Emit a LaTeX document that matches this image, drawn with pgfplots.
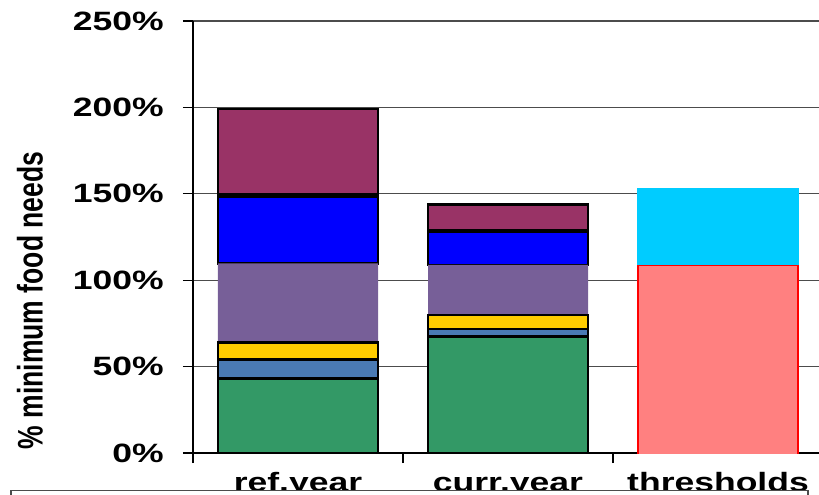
\documentclass[border=0pt]{standalone}
\usepackage{pgfplots}
\pgfplotsset{compat=1.18}
\usepackage{fontspec}
\setmainfont{Liberation Sans}

\definecolor{cgreen}{HTML}{339966}
\definecolor{csteel}{HTML}{4A7AB4}
\definecolor{cyellow}{HTML}{FFCC00}
\definecolor{cpurple}{HTML}{775F98}
\definecolor{cblue}{HTML}{0000FF}
\definecolor{cmaroon}{HTML}{993366}
\definecolor{csalmon}{HTML}{FF8080}
\definecolor{cred}{HTML}{FF0000}
\definecolor{ccyan}{HTML}{00CCFF}

% labels are set wide, as in the original sheet
\newcommand{\wide}[1]{\scalebox{1.34}[1]{#1}}
\newcommand{\labfont}{\fontsize{26.5pt}{30pt}\selectfont\bfseries}

\pgfplotsset{
  base/.style={
    at={(193pt,-453pt)}, anchor=south west,
    width=630pt, height=432pt, scale only axis,
    xmin=-0.5, xmax=2.5, ymin=0, ymax=250,
  },
  seg/.style={fill=#1, draw=black, line width=2.6pt},
}

\begin{document}
\begin{tikzpicture}
\useasboundingbox (0pt,0pt) rectangle (819pt,-495pt);
\clip (0pt,0pt) rectangle (819pt,-495pt);

\begin{axis}[
  base, ybar stacked, bar width=160pt,
  axis x line*=bottom, axis y line*=left,
  axis line style={-, black, line width=1.2pt},
  tick align=outside,
  major tick length=10pt,
  tick style={black, line width=1.2pt},
  ytick={0,50,100,150,200,250},
  yticklabels={\wide{0\%},\wide{50\%},\wide{100\%},\wide{150\%},\wide{200\%},\wide{250\%}},
  yticklabel style={font=\labfont, anchor=east, inner sep=0pt, xshift=-19pt},
  /pgf/number format/assume math mode=true,
  ymajorgrids,
  grid style={black!70, line width=1.2pt},
  xtick={-0.5,0.5,1.5,2.5},
  xticklabels={},
  extra x ticks={0,1,2},
  extra x tick labels={\wide{ref.year},\wide{curr.year},\wide{thresholds}},
  extra x tick style={major tick length=0pt,
    xticklabel style={font=\labfont, anchor=base, inner sep=0pt, yshift=-38pt}},
  ylabel={\scalebox{1}[1.34]{\% minimum food needs}},
  ylabel style={font=\labfont, at={(axis description cs:-0.2587,0.353)}, anchor=center},
]
% ref.year and curr.year, bottom to top
\addplot[seg=cgreen]  coordinates {(0,43.0) (1,67.3)};
\addplot[seg=csteel]  coordinates {(0,11.2) (1,4.5)};
\addplot[seg=cyellow] coordinates {(0,9.9)  (1,8.1)};
\addplot[fill=cpurple, draw=none] coordinates {(0,45.7) (1,28.9)};
\addplot[seg=cblue]   coordinates {(0,38.5) (1,19.3)};
\addplot[seg=white]   coordinates {(0,1.2)  (1,0.9)};
\addplot[seg=cmaroon] coordinates {(0,49.6) (1,14.7)};
\end{axis}

% thresholds: lower band with red sides, upper band on top
\begin{axis}[base, hide axis, ybar stacked, bar width=160pt]
\addplot[fill=csalmon, draw=cred, line width=2.6pt] coordinates {(2,107.8)};
\addplot[fill=ccyan, draw=ccyan, line width=2.6pt] coordinates {(2,44.8)};
\end{axis}
% inner fill of the lower band, so its top edge shows no red
\begin{axis}[base, hide axis, ybar, bar width=156.4pt]
\addplot[fill=csalmon, draw=csalmon, line width=1pt] coordinates {(2,107.8)};
\end{axis}

% box below the chart
\draw[black!70, line width=1.2pt, fill=white] (11pt,-490.5pt) rectangle (808pt,-600pt);
\end{tikzpicture}
\end{document}
